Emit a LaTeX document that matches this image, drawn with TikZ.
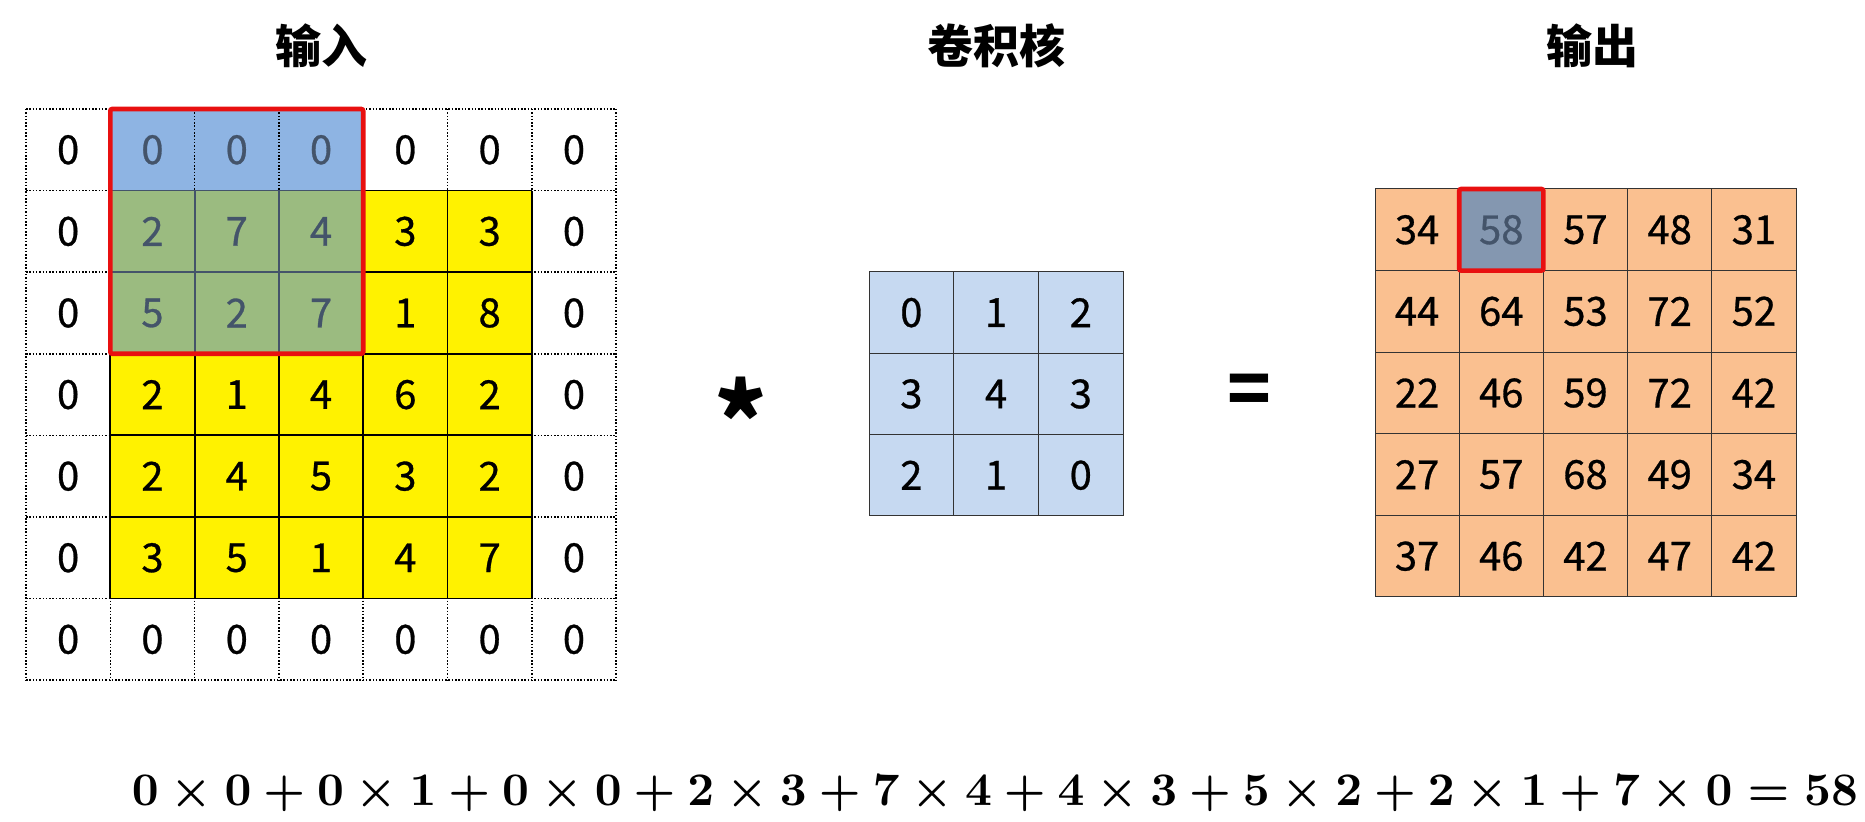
\documentclass[tikz,border=0pt]{standalone}
\usepackage{amsmath}
\usepackage{fontspec}
\newfontfamily\cjk{Noto Sans CJK SC}
\newfontfamily\cjkm{Noto Sans CJK SC}[FakeBold=0.7]
\usetikzlibrary{calc}
\definecolor{padblue}{HTML}{8EB4E3}
\definecolor{overgreen}{HTML}{9BBB80}
\definecolor{txtblue}{HTML}{44546A}
\definecolor{kerblue}{HTML}{C6D9F1}
\definecolor{outorange}{HTML}{FAC090}
\definecolor{selblue}{HTML}{8497B0}
\definecolor{selred}{HTML}{E81010}
\tikzset{
  cellbase/.style={minimum width=42.15pt, minimum height=40.8pt, inner sep=0pt, outer sep=0pt,
    font=\cjkm\fontsize{20}{20}\selectfont},
  padcell/.style={cellbase, fill=white},
  topcell/.style={cellbase, fill=padblue, text=txtblue},
  grncell/.style={cellbase, fill=overgreen, text=txtblue},
  yelcell/.style={cellbase, fill=yellow},
  kcell/.style={cellbase, minimum width=42.35pt, minimum height=40.65pt, fill=kerblue, draw=black!80, line width=0.5pt},
  ocell/.style={cellbase, minimum width=42.1pt, minimum height=40.8pt, fill=outorange, draw=black!80, line width=0.5pt},
  scell/.style={ocell, fill=selblue, text=txtblue},
  dotline/.style={draw=black, line width=0.75pt, dash pattern=on 0.75pt off 0.9pt},
  solidline/.style={draw=black, line width=0.9pt},
  grnline/.style={draw=txtblue, line width=0.9pt},
  redbox/.style={draw=selred, line width=2.3pt, rounded corners=1pt},
  title/.style={font=\cjk\bfseries\fontsize{23}{23}\selectfont},
}
\begin{document}
\begin{tikzpicture}[x=0.5pt,y=-0.5pt]
\path[use as bounding box] (0,0) rectangle (1865,822);
% ---------- input 7x7 ----------
\foreach \r/\row in {0/{0,0,0,0,0,0,0},1/{0,2,7,4,3,3,0},2/{0,5,2,7,1,8,0},3/{0,2,1,4,6,2,0},4/{0,2,4,5,3,2,0},5/{0,3,5,1,4,7,0},6/{0,0,0,0,0,0,0}}{
  \foreach \v [count=\cc from 0] in \row {
    \pgfmathtruncatemacro{\isin}{(\r>0)&&(\r<6)&&(\cc>0)&&(\cc<6)}
    \pgfmathtruncatemacro{\istop}{(\r==0)&&(\cc>0)&&(\cc<4)}
    \pgfmathtruncatemacro{\isgrn}{(\r>0)&&(\r<3)&&(\cc>0)&&(\cc<4)}
    \ifnum\isgrn=1 \def\st{grncell}\else
      \ifnum\istop=1 \def\st{topcell}\else
        \ifnum\isin=1 \def\st{yelcell}\else \def\st{padcell}\fi\fi\fi
    \node[\st] (i-\r-\cc) at ({26+(\cc+0.5)*84.3},{109+(\r+0.5)*81.6}) {\v};
  }
}
% dotted grid
\foreach \k in {0,...,6}{
  \draw[dotline] (i-0-\k.north west) -- (i-6-\k.south west);
  \draw[dotline] (i-\k-0.north west) -- (i-\k-6.north east);
}
\draw[dotline] (i-0-6.north east) -- (i-6-6.south east);
\draw[dotline] (i-6-0.south west) -- (i-6-6.south east);
% solid grid of the yellow region
\foreach \k in {1,...,5}{
  \draw[solidline] (i-1-\k.north west) -- (i-5-\k.south west);
  \draw[solidline] (i-\k-1.north west) -- (i-\k-5.north east);
}
\draw[solidline] (i-1-5.north east) -- (i-5-5.south east);
\draw[solidline] (i-5-1.south west) -- (i-5-5.south east);
% lines inside the green overlap
\draw[grnline] (i-1-1.north west) -- (i-1-3.north east);
\draw[grnline] (i-2-1.north west) -- (i-2-3.north east);
\draw[grnline] (i-1-2.north west) -- (i-2-2.south west);
\draw[grnline] (i-1-3.north west) -- (i-2-3.south west);
% red window
\draw[redbox] (i-0-1.north west) rectangle (i-2-3.south east);
% ---------- kernel ----------
\foreach \r/\row in {0/{0,1,2},1/{3,4,3},2/{2,1,0}}{
  \foreach \v [count=\cc from 0] in \row {
    \node[kcell] (k-\r-\cc) at ({869+(\cc+0.5)*84.7},{272+(\r+0.5)*81.3}) {\v};
  }
}
% ---------- output ----------
\foreach \r/\row in {0/{34,58,57,48,31},1/{44,64,53,72,52},2/{22,46,59,72,42},3/{27,57,68,49,34},4/{37,46,42,47,42}}{
  \foreach \v [count=\cc from 0] in \row {
    \pgfmathtruncatemacro{\issel}{(\r==0)&&(\cc==1)}
    \ifnum\issel=1 \def\st{scell}\else\def\st{ocell}\fi
    \node[\st] (o-\r-\cc) at ({1375+(\cc+0.5)*84.2},{189+(\r+0.5)*81.6}) {\v};
  }
}
\draw[redbox] (o-0-1.north west) rectangle (o-0-1.south east);
% ---------- titles and operators ----------
\node[title] (t-in) at (321,46) {输入};
\node[title] (t-ker) at (996,46) {卷积核};
\node[title] (t-out) at (1592,46) {输出};
\node[font=\cjk\bfseries\fontsize{50}{50}\selectfont, inner sep=0pt] (star) at (741,418) {*};
\node[font=\cjk\bfseries\fontsize{36}{36}\selectfont, inner sep=0pt] (eq) at (1249,395) {=};
% ---------- formula ----------
\node[inner sep=0pt] (formula) at (995,794) {\resizebox{863pt}{!}{\boldmath$\mathbf{0}\times\mathbf{0}+\mathbf{0}\times\mathbf{1}+\mathbf{0}\times\mathbf{0}+\mathbf{2}\times\mathbf{3}+\mathbf{7}\times\mathbf{4}+\mathbf{4}\times\mathbf{3}+\mathbf{5}\times\mathbf{2}+\mathbf{2}\times\mathbf{1}+\mathbf{7}\times\mathbf{0}=\mathbf{58}$}};
\end{tikzpicture}
\end{document}
